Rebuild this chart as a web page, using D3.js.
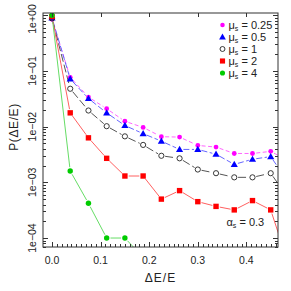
<!DOCTYPE html>
<html><head><meta charset="utf-8">
<script src="https://cdn.jsdelivr.net/npm/d3@7"></script>
<style>html,body{margin:0;padding:0;background:#fff;}svg{display:block;font-family:"Liberation Sans",Arial,sans-serif;}</style>
</head><body>
<svg id="c" width="291" height="291"></svg>
<script>
const dE = [0, 0.0375, 0.075, 0.1125, 0.15, 0.1875, 0.225, 0.2625, 0.3, 0.3375, 0.375, 0.4125, 0.45, 0.4875];
const mu025 = [0.85, 0.077, 0.034, 0.021, 0.0125, 0.0097, 0.0066, 0.0065, 0.0046, 0.0043, 0.0033, 0.0033, 0.0036, 0.0024];
const mu05  = [0.9, 0.072, 0.032, 0.0177, 0.0105, 0.0075, 0.0055, 0.0039, 0.0039, 0.0032, 0.0021, 0.0026, 0.0029, 0.00097];
const mu1   = [0.88, 0.048, 0.0195, 0.0102, 0.0067, 0.0047, 0.0030, 0.0027, 0.0017, 0.00146, 0.00123, 0.00123, 0.00146, 0.0005];
const mu2   = [0.95, 0.0177, 0.0063, 0.0027, 0.0013, 0.0013, 0.0005, 0.00071, 0.00045, 0.00037, 0.00032, 0.00047, 0.00032, 0.000032];
const mu4   = [1.0, 0.0016, 0.00042, 0.0001, 0.0001, 0.000045];
const seriesLabels = ["0.25", "0.5", "1", "2", "4"];
const yTickVals = [1, 1e-1, 1e-2, 1e-3, 1e-4];
const yTickLabels = ["1e+00", "1e\u221201", "1e\u221202", "1e\u221203", "1e\u221204"];
const xTickVals = [0, 0.1, 0.2, 0.3, 0.4];
const xTickLabels = ["0.0", "0.1", "0.2", "0.3", "0.4"];
const alphaS = "0.3";

const L = 43, R = 278, T = 13, B = 247;
const svg = d3.select("#c");
const x = d3.scaleLinear().domain([-0.0185, 0.465]).range([L, R]);
const y = d3.scaleLog().domain([6.9e-5, 1.1]).range([B, T]);

const axisCol = "#333", txt = "#222";

svg.append("defs").append("clipPath").attr("id", "pc")
  .append("rect").attr("x", L).attr("y", T).attr("width", R - L).attr("height", B - T);

const series = [
  {vals: mu025, mk: "dot", fill: "#ff00ff", line: "#ff66ff", dash: "4,2.5"},
  {vals: mu05, mk: "tri", fill: "#0000ff", line: "#6666ff", dash: "6,2.5"},
  {vals: mu1, mk: "open", fill: "none", line: "#555555", dash: "8,3"},
  {vals: mu2, mk: "sq", fill: "#ff0000", line: "#ff6060", dash: null},
  {vals: mu4, mk: "circ", fill: "#00cc00", line: "#66dd66", dash: null}
];

const plot = svg.append("g").attr("clip-path", "url(#pc)");

function marker(g, mk, px, py, s) {
  s = s || 1;
  if (mk === "dot") {
    g.append("circle").attr("cx", px).attr("cy", py).attr("r", 2.4 * s).attr("fill", "#ff00ff");
  } else if (mk === "tri") {
    g.append("path").attr("transform", `translate(${px},${py + 0.5})`)
      .attr("d", d3.symbol().type(d3.symbolTriangle).size(22 * s * s)()).attr("fill", "#0000ff");
  } else if (mk === "open") {
    g.append("circle").attr("cx", px).attr("cy", py).attr("r", 2.6 * s).attr("fill", "none")
      .attr("stroke", "#222").attr("stroke-width", 0.9);
  } else if (mk === "sq") {
    g.append("rect").attr("x", px - 2.7 * s).attr("y", py - 2.7 * s).attr("width", 5.4 * s).attr("height", 5.4 * s).attr("fill", "#ff0000");
  } else if (mk === "circ") {
    g.append("circle").attr("cx", px).attr("cy", py).attr("r", 2.7 * s).attr("fill", "#00cc00");
  }
}

const gap = 3.8;
series.forEach(s => {
  const pts = s.vals.map((v, i) => [x(dE[i]), y(v)]);
  const lg = plot.append("g");
  for (let i = 0; i < pts.length - 1; i++) {
    const [x1, y1] = pts[i], [x2, y2] = pts[i + 1];
    const dx = x2 - x1, dy = y2 - y1, len = Math.hypot(dx, dy);
    if (len <= 2 * gap) continue;
    const ux = dx / len, uy = dy / len;
    const ln = lg.append("line")
      .attr("x1", x1 + ux * gap).attr("y1", y1 + uy * gap)
      .attr("x2", x2 - ux * gap).attr("y2", y2 - uy * gap)
      .attr("stroke", s.line).attr("stroke-width", 1);
    if (s.dash) ln.attr("stroke-dasharray", s.dash);
  }
});
series.forEach(s => {
  const mg = plot.append("g");
  s.vals.forEach((v, i) => marker(mg, s.mk, x(dE[i]), y(v)));
});

// frame
svg.append("rect").attr("x", L).attr("y", T).attr("width", R - L).attr("height", B - T)
  .attr("fill", "none").attr("stroke", axisCol).attr("stroke-width", 1);

const tk = svg.append("g").attr("stroke", axisCol).attr("stroke-width", 1);
// y ticks
const [ylo, yhi] = y.domain();
for (let e = -5; e <= 0; e++) {
  for (let m = 1; m <= 9; m++) {
    const v = m * Math.pow(10, e);
    if (v < ylo || v > yhi) continue;
    const len = m === 1 ? 5 : 3;
    const py = Math.round(y(v)) + 0.5;
    tk.append("line").attr("x1", L).attr("x2", L + len).attr("y1", py).attr("y2", py);
    tk.append("line").attr("x1", R).attr("x2", R - len).attr("y1", py).attr("y2", py);
  }
}
// x ticks
for (let k = 0; k <= 46; k++) {
  const v = k / 100;
  const px = Math.round(x(v)) + 0.5;
  const len = k % 10 === 0 ? 5 : 3;
  tk.append("line").attr("x1", px).attr("x2", px).attr("y1", B).attr("y2", B - len);
}
xTickVals.forEach(v => {
  const px = Math.round(x(v)) + 0.5;
  tk.append("line").attr("x1", px).attr("x2", px).attr("y1", T).attr("y2", T + 4);
});

// tick labels
xTickVals.forEach((v, i) => {
  svg.append("text").attr("x", x(v)).attr("y", 263.5).attr("text-anchor", "middle")
    .attr("font-size", 10.5).attr("fill", txt).text(xTickLabels[i]);
});
yTickVals.forEach((v, i) => {
  let cy = y(v);
  if (i === 0) cy = 19;
  svg.append("text").attr("transform", `translate(35.5,${cy}) rotate(-90)`)
    .attr("text-anchor", "middle").attr("font-size", 10.5).attr("fill", txt).text(yTickLabels[i]);
});

// axis titles
svg.append("text").attr("x", 160.5).attr("y", 282).attr("text-anchor", "middle")
  .attr("font-size", 12).attr("letter-spacing", 1).attr("fill", txt).text("ΔE/E");
svg.append("text").attr("transform", "translate(18,127) rotate(-90)").attr("text-anchor", "middle")
  .attr("font-size", 12).attr("letter-spacing", 0.6).attr("fill", txt).text("P(ΔE/E)");

// legend
const legY = [25, 37, 49, 61, 73];
series.forEach((s, i) => {
  const lg = svg.append("g");
  marker(lg, s.mk, 222.5, legY[i], 0.95);
  const t = svg.append("text").attr("x", 228.5).attr("y", legY[i] + 4).attr("font-size", 11).attr("fill", txt);
  t.append("tspan").text("μ");
  t.append("tspan").attr("font-size", 7).attr("dy", 2).text("s");
  t.append("tspan").attr("dy", -2).text(" = " + seriesLabels[i]);
});

// alpha annotation
const at = svg.append("text").attr("x", 226.5).attr("y", 226).attr("font-size", 11).attr("fill", txt);
at.append("tspan").text("α");
at.append("tspan").attr("font-size", 7).attr("dy", 2).text("s");
at.append("tspan").attr("dy", -2).text(" = " + alphaS);
</script>
</body></html>
